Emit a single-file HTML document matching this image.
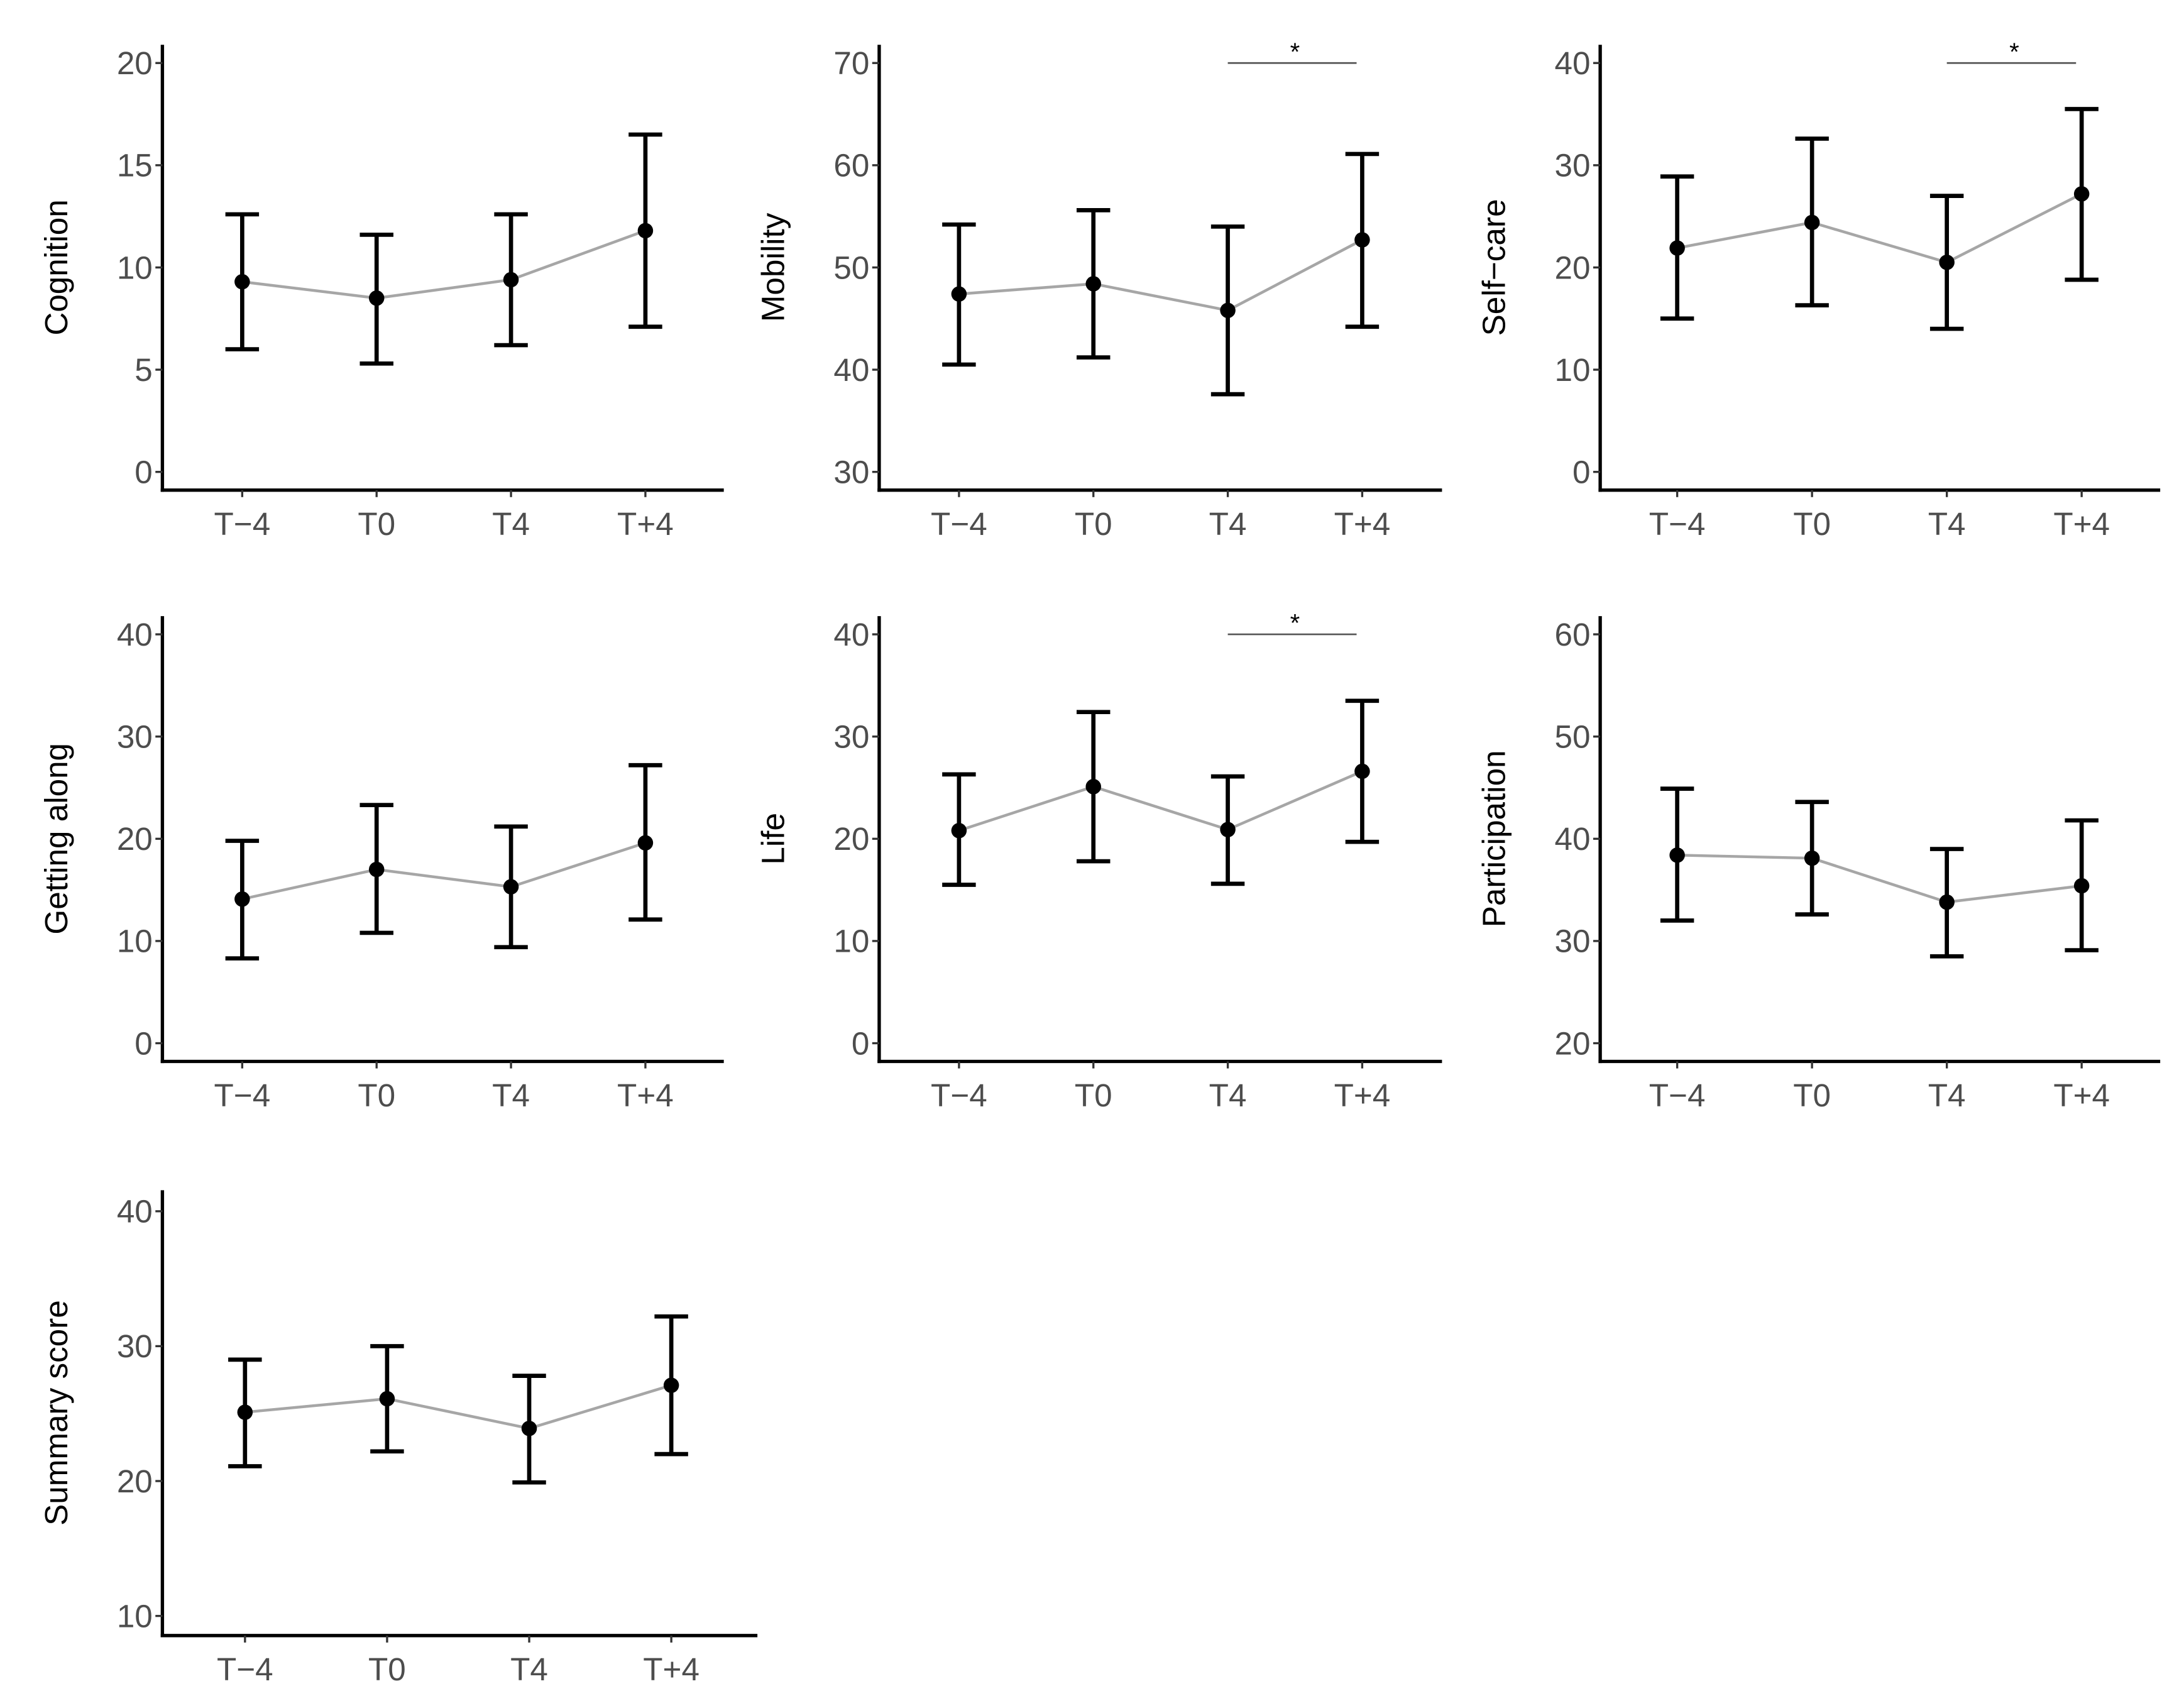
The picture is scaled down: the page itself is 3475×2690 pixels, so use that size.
<!DOCTYPE html>
<html><head><meta charset="utf-8">
<style>
html,body{margin:0;padding:0;background:#fff;}
svg{display:block;}
text{font-family:"Liberation Sans",Arial,sans-serif;}
</style></head>
<body>
<svg id="chart" xmlns="http://www.w3.org/2000/svg" width="3475" height="2690" viewBox="0 0 1560 1207.6"></svg>
<script>
const categories = ["T\u22124","T0","T4","T+4"];
const panelTitles = ["Cognition","Mobility","Self\u2212care","Getting along","Life","Participation","Summary score"];
const cognitionMean = [9.3,8.5,9.4,11.8];
const cognitionLo = [6.0,5.3,6.2,7.1];
const cognitionHi = [12.6,11.6,12.6,16.5];
const mobilityMean = [47.4,48.4,45.8,52.7];
const mobilityLo = [40.5,41.2,37.6,44.2];
const mobilityHi = [54.2,55.6,54.0,61.1];
const selfcareMean = [21.9,24.4,20.5,27.2];
const selfcareLo = [15.0,16.3,14.0,18.8];
const selfcareHi = [28.9,32.6,27.0,35.5];
const gettingMean = [14.1,17.0,15.3,19.6];
const gettingLo = [8.3,10.8,9.4,12.1];
const gettingHi = [19.8,23.3,21.2,27.2];
const lifeMean = [20.8,25.1,20.9,26.6];
const lifeLo = [15.5,17.8,15.6,19.7];
const lifeHi = [26.3,32.4,26.1,33.5];
const partMean = [38.4,38.1,33.8,35.4];
const partLo = [32.0,32.6,28.5,29.1];
const partHi = [44.9,43.6,39.0,41.8];
const summaryMean = [25.1,26.1,23.9,27.1];
const summaryLo = [21.1,22.2,19.9,22.0];
const summaryHi = [29.0,30.0,27.8,32.2];
const cognitionTicks = [0,5,10,15,20];
const mobilityTicks = [30,40,50,60,70];
const selfcareTicks = [0,10,20,30,40];
const gettingTicks = [0,10,20,30,40];
const lifeTicks = [0,10,20,30,40];
const partTicks = [20,30,40,50,60];
const summaryTicks = [10,20,30,40];
const sigFlags = [false,true,true,false,true,false,false];

const NS="http://www.w3.org/2000/svg";
const svg=document.getElementById('chart');
function mk(tag,attrs,parent){const e=document.createElementNS(NS,tag);for(const k in attrs)e.setAttribute(k,attrs[k]);(parent||svg).appendChild(e);return e;}

const layouts=[
 {ax:116,rx:517,top:32,by:350,py1:45,py0:337,x0:173,dx:96},
 {ax:628,rx:1030,top:32,by:350,py1:45,py0:337,x0:685,dx:96},
 {ax:1143,rx:1543,top:32,by:350,py1:45,py0:337,x0:1198,dx:96.3},
 {ax:116,rx:517,top:440,by:758,py1:453,py0:745,x0:173,dx:96},
 {ax:628,rx:1030,top:440,by:758,py1:453,py0:745,x0:685,dx:96},
 {ax:1143,rx:1543,top:440,by:758,py1:453,py0:745,x0:1198,dx:96.3},
 {ax:116,rx:541,top:850,by:1168,py1:865,py0:1154,x0:175,dx:101.5}
];
const means=[cognitionMean,mobilityMean,selfcareMean,gettingMean,lifeMean,partMean,summaryMean];
const los=[cognitionLo,mobilityLo,selfcareLo,gettingLo,lifeLo,partLo,summaryLo];
const his=[cognitionHi,mobilityHi,selfcareHi,gettingHi,lifeHi,partHi,summaryHi];
const ticks=[cognitionTicks,mobilityTicks,selfcareTicks,gettingTicks,lifeTicks,partTicks,summaryTicks];

layouts.forEach((L,p)=>{
  const g=mk('g',{});
  
  
  const tk=ticks[p], vmin=tk[0], vmax=tk[tk.length-1];
  const y=v=>L.py0+(v-vmin)/(vmax-vmin)*(L.py1-L.py0);
  const x=i=>L.x0+i*L.dx;
  const ya=mk('line',{x1:L.ax,y1:L.top,x2:L.ax,y2:L.by+1.2,stroke:'#000','stroke-width':2.4},g);
  
  
  const xa=mk('line',{x1:L.ax-1.2,y1:L.by,x2:L.rx,y2:L.by,stroke:'#000','stroke-width':2.4},g);
  
  
  tk.forEach(v=>{
    mk('line',{x1:L.ax-5,y1:y(v),x2:L.ax,y2:y(v),stroke:'#333','stroke-width':1.5},g);
    const t=mk('text',{x:L.ax-7,y:y(v)+8,'text-anchor':'end','font-size':23,fill:'#4d4d4d'},g);
    t.textContent=v;
    
    
  });
  categories.forEach((c,i)=>{
    mk('line',{x1:x(i),y1:L.by,x2:x(i),y2:L.by+5,stroke:'#333','stroke-width':1.5},g);
    const t=mk('text',{x:x(i),y:L.by+32,'text-anchor':'middle','font-size':23,fill:'#4d4d4d'},g);
    t.textContent=c;
    
    
  });
  const cy=(L.top+L.by)/2;
  const tt=mk('text',{x:0,y:0,'text-anchor':'middle','font-size':23,fill:'#000',transform:`translate(${L.ax-68},${cy}) rotate(-90)`},g);
  tt.textContent=panelTitles[p];
  
  
  const pts=means[p].map((m,i)=>x(i)+','+y(m)).join(' ');
  const pl=mk('polyline',{points:pts,fill:'none',stroke:'#a6a6a6','stroke-width':2},g);
  
  
  means[p].forEach((m,i)=>{
    const eb=mk('path',{d:`M${x(i)-12},${y(his[p][i])}H${x(i)+12}M${x(i)},${y(his[p][i])}V${y(los[p][i])}M${x(i)-12},${y(los[p][i])}H${x(i)+12}`,stroke:'#000','stroke-width':3,fill:'none'},g);
    
    
    const c=mk('circle',{cx:x(i),cy:y(m),r:5.5,fill:'#000'},g);
    
    
  });
  if(sigFlags[p]){
    const sl=mk('line',{x1:x(2),y1:L.py1,x2:x(3)-4,y2:L.py1,stroke:'#555','stroke-width':1.2},g);
    
    
    const st=mk('text',{x:(x(2)+x(3))/2,y:L.py1-2,'text-anchor':'middle','font-size':18,fill:'#000'},g);
    st.textContent='*';
    
    
  }
});
</script>
</body></html>
